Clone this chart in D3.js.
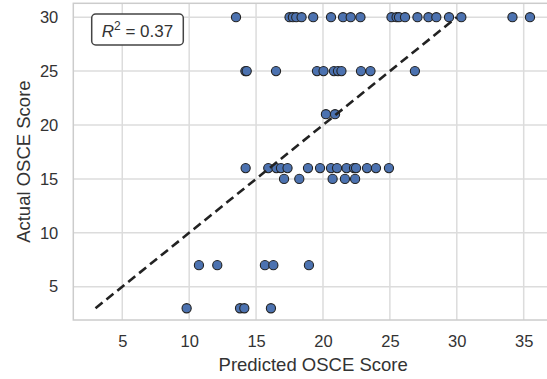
<!DOCTYPE html>
<html>
<head>
<meta charset="utf-8">
<script src="https://cdn.jsdelivr.net/npm/d3@7"></script>
<style>
  body { margin: 0; background: #fff; }
  text { font-family: "Liberation Sans", Arial, sans-serif; fill: #333; }
</style>
</head>
<body>
<svg id="chart"></svg>
<script>
// Data
const predicted = [
  // actual = 30
  13.5, 17.5, 17.75, 18.0, 18.4, 19.27, 20.6, 21.5, 22.07, 22.8, 25.12, 25.5, 25.68, 26.13,
  27.06, 27.88, 28.47, 29.42, 30.34, 34.16, 35.47,
  // actual = 25
  14.2, 14.3, 16.49, 19.55, 20.04, 20.82, 21.12, 21.38, 22.84, 23.55, 26.87,
  // actual = 21
  20.22, 20.9,
  // actual = 16
  14.22, 15.91, 16.52, 16.86, 17.35, 18.88, 19.78, 20.6, 21.05, 21.76, 22.32, 22.47, 23.29, 23.96, 24.93,
  // actual = 15
  17.09, 18.23, 20.72, 21.64, 22.4,
  // actual = 7
  10.73, 12.1, 15.66, 16.29, 18.95,
  // actual = 3
  9.81, 13.8, 14.12, 16.11
];
const actual = [
  30, 30, 30, 30, 30, 30, 30, 30, 30, 30, 30, 30, 30, 30, 30, 30, 30, 30, 30, 30, 30,
  25, 25, 25, 25, 25, 25, 25, 25, 25, 25, 25,
  21, 21,
  16, 16, 16, 16, 16, 16, 16, 16, 16, 16, 16, 16, 16, 16, 16,
  15, 15, 15, 15, 15,
  7, 7, 7, 7, 7,
  3, 3, 3, 3
];
const xTicks = [5, 10, 15, 20, 25, 30, 35];
const yTicks = [5, 10, 15, 20, 25, 30];
const rSquared = 0.37;

const width = 547;
const height = 379;

const svg = d3.select("#chart")
  .attr("width", width)
  .attr("height", height);

// Scales (axes run past the right edge of the picture)
const x = d3.scaleLinear().domain([1.34, 37.19]).range([73.3, 553]);
const y = d3.scaleLinear().domain([1.91, 31.29]).range([320, 3.3]);

// Grid
const grid = svg.append("g");
grid.selectAll("line.gx")
  .data(xTicks)
  .enter().append("line")
  .attr("x1", d => x(d)).attr("x2", d => x(d))
  .attr("y1", y.range()[1]).attr("y2", y.range()[0])
  .attr("stroke", "#dcdcdc").attr("stroke-width", 1.5);
grid.selectAll("line.gy")
  .data(yTicks)
  .enter().append("line")
  .attr("y1", d => y(d)).attr("y2", d => y(d))
  .attr("x1", x.range()[0]).attr("x2", x.range()[1])
  .attr("stroke", "#dcdcdc").attr("stroke-width", 1.5);

// Frame
svg.append("rect")
  .attr("x", x.range()[0]).attr("y", y.range()[1])
  .attr("width", x.range()[1] - x.range()[0])
  .attr("height", y.range()[0] - y.range()[1])
  .attr("fill", "none")
  .attr("stroke", "#cccccc")
  .attr("stroke-width", 1.5);

// Axes
const xAxis = svg.append("g")
  .attr("transform", `translate(0,${y.range()[0]})`)
  .call(d3.axisBottom(x).tickValues(xTicks).tickSize(0).tickPadding(15));
const yAxis = svg.append("g")
  .attr("transform", `translate(${x.range()[0]},0)`)
  .call(d3.axisLeft(y).tickValues(yTicks).tickSize(0).tickPadding(15));
[xAxis, yAxis].forEach(a => {
  a.select(".domain").remove();
  a.selectAll("text")
    .attr("font-family", "Liberation Sans, Arial, sans-serif")
    .attr("font-size", 16.5)
    .attr("fill", "#3a3a3a");
});

// Axis labels
svg.append("text")
  .attr("x", (x.range()[0] + x.range()[1]) / 2)
  .attr("y", 371)
  .attr("text-anchor", "middle")
  .attr("font-size", 18.5)
  .attr("fill", "#3a3a3a")
  .text("Predicted OSCE Score");
svg.append("text")
  .attr("transform", `translate(29.5,${(y.range()[0] + y.range()[1]) / 2}) rotate(-90)`)
  .attr("text-anchor", "middle")
  .attr("font-size", 18.5)
  .attr("fill", "#3a3a3a")
  .text("Actual OSCE Score");

// Points
const points = predicted.map((p, i) => ({ p: p, a: actual[i] }));
svg.append("g")
  .selectAll("circle")
  .data(points)
  .enter().append("circle")
  .attr("cx", d => x(d.p))
  .attr("cy", d => y(d.a))
  .attr("r", 4.6)
  .attr("fill", "#4c72b0")
  .attr("stroke", "#222")
  .attr("stroke-width", 1.1);

// Identity line from min to max of actual
const lo = d3.min(actual), hi = d3.max(actual);
svg.append("line")
  .attr("x1", x(lo)).attr("y1", y(lo))
  .attr("x2", x(hi)).attr("y2", y(hi))
  .attr("stroke", "#222")
  .attr("stroke-width", 2.6)
  .attr("stroke-dasharray", "9,5");

// R^2 box
const box = svg.append("g").attr("transform", "translate(91.7,14)");
box.append("rect")
  .attr("width", 91.6).attr("height", 31)
  .attr("rx", 4)
  .attr("fill", "#fff")
  .attr("stroke", "#444")
  .attr("stroke-width", 1.5);
const t = box.append("text")
  .attr("x", 45.8).attr("y", 22.5)
  .attr("text-anchor", "middle")
  .attr("font-family", "DejaVu Sans, sans-serif")
  .attr("font-size", 17)
  .attr("fill", "#3a3a3a");
t.append("tspan").attr("font-style", "italic").text("R");
t.append("tspan").attr("font-size", 12).attr("dy", -7).text("2");
t.append("tspan").attr("dy", 7).text(" = " + rSquared.toFixed(2));
</script>
</body>
</html>
